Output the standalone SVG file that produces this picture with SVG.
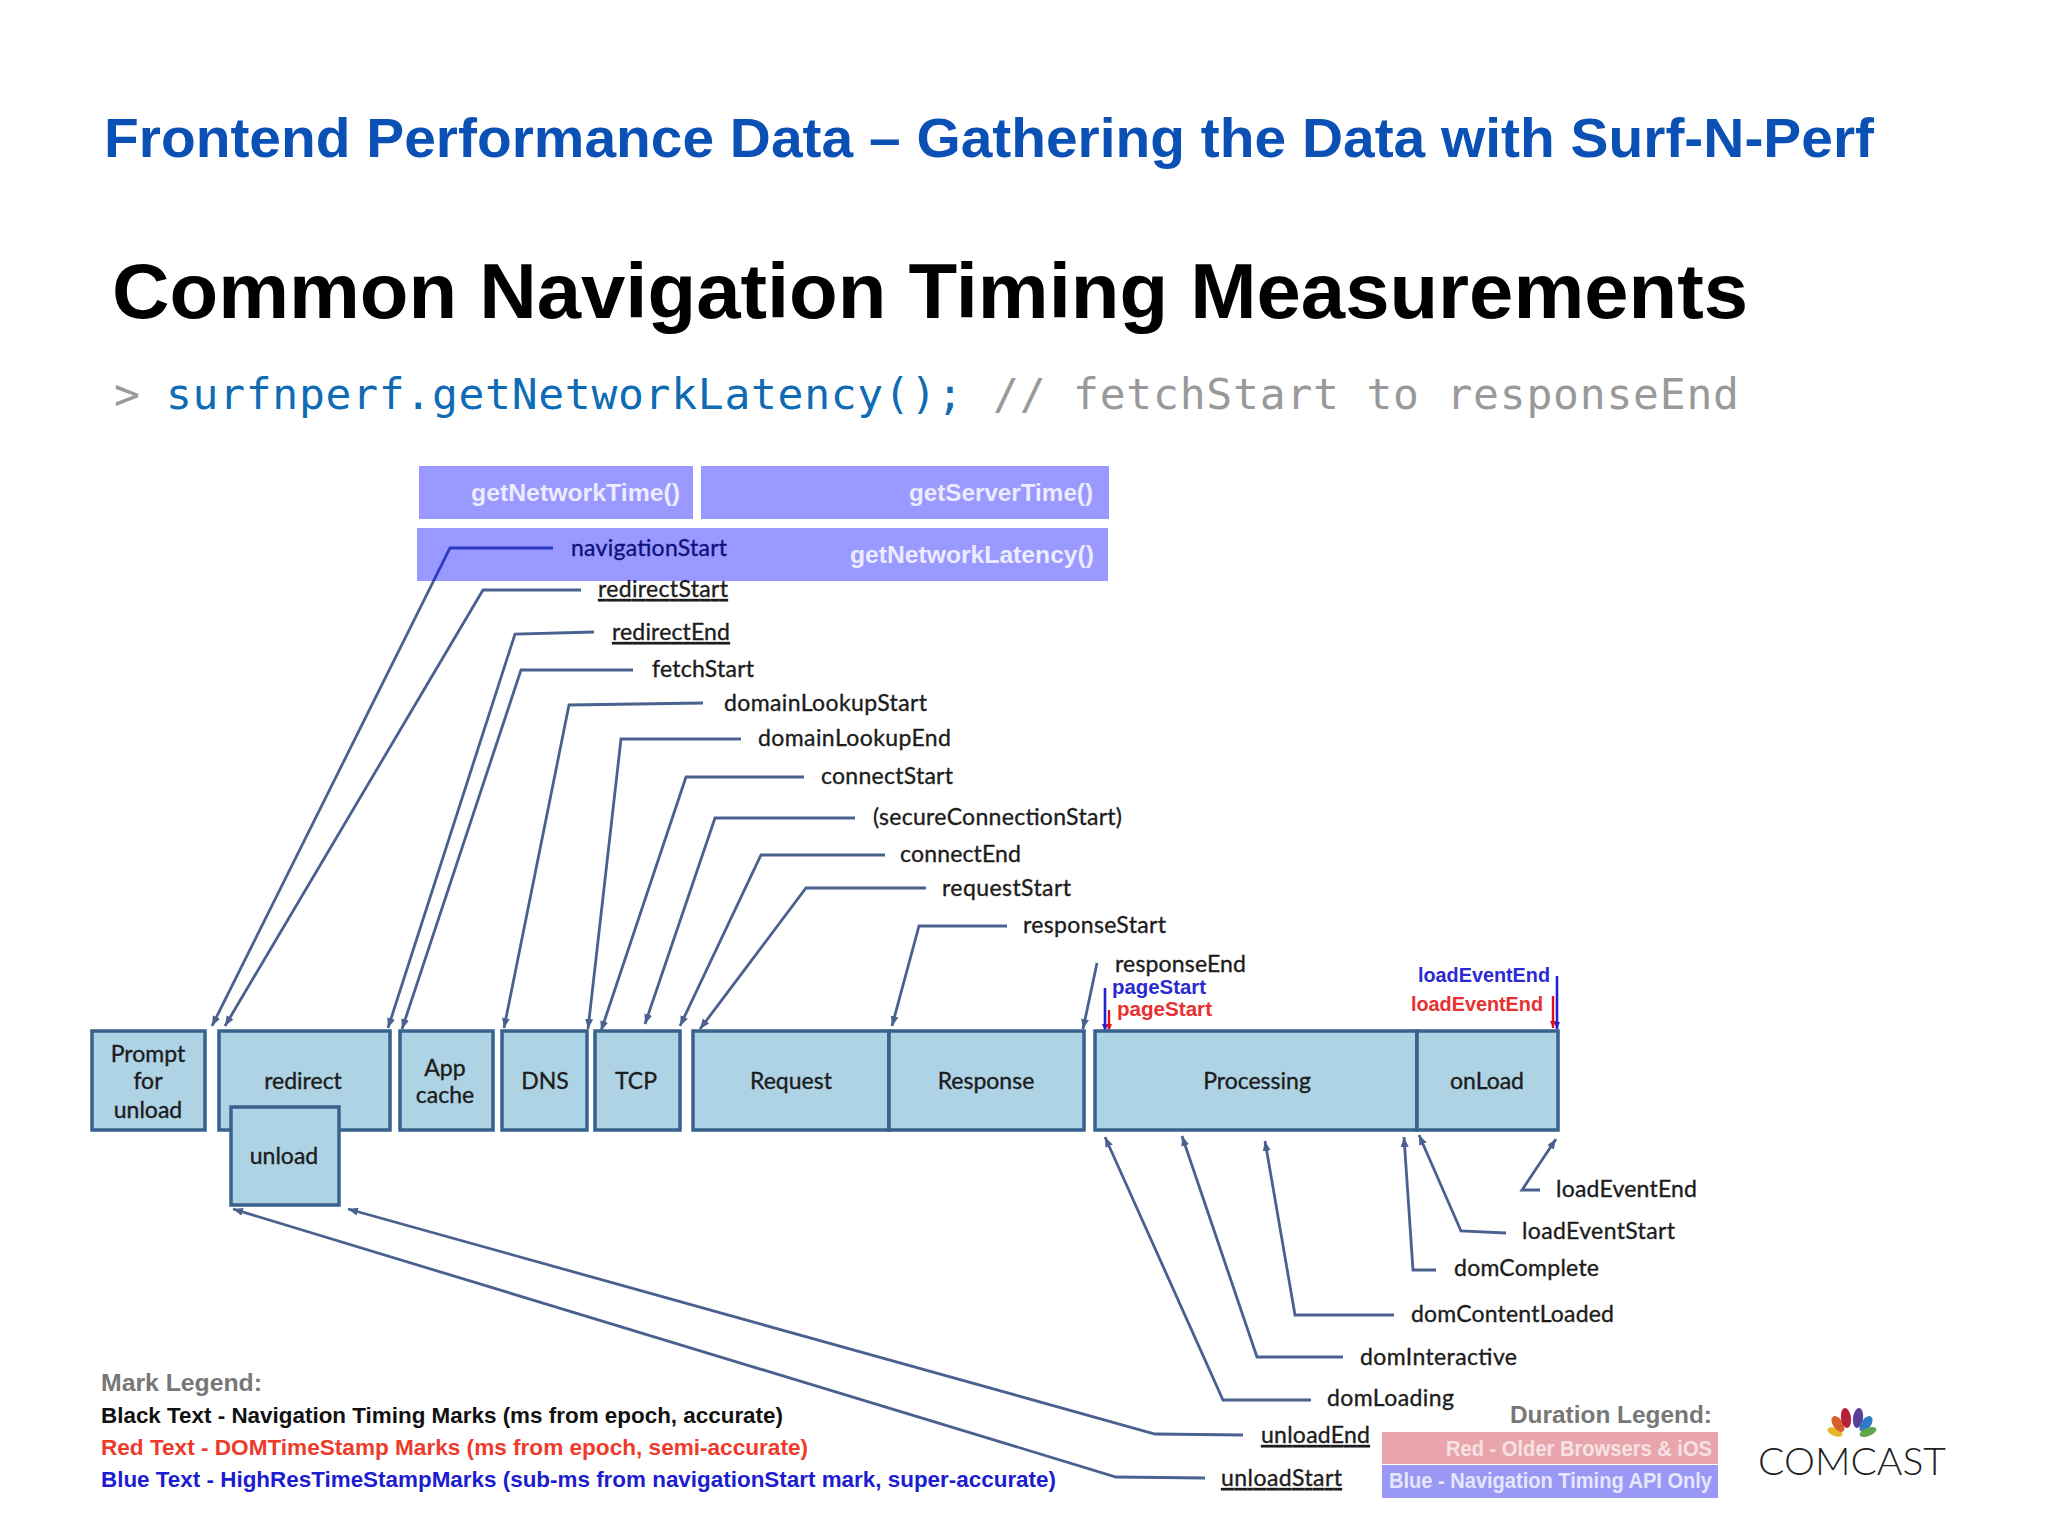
<svg xmlns="http://www.w3.org/2000/svg" width="2048" height="1536" viewBox="0 0 2048 1536">
<style>
text{font-family:"Liberation Sans",Arial,sans-serif}
.c{font-family:Lato,"Open Sans",sans-serif;font-size:23px;fill:#1c1c1c;stroke:#1c1c1c;stroke-width:.35}
.m{text-anchor:middle}
.u{text-decoration:underline}
.b{fill:#aed3e4;stroke:#37628e;stroke-width:3.5}
.p{fill:#0000ff;fill-opacity:.4}
.l{fill:none;stroke:#4a6190;stroke-width:2.8;marker-end:url(#a)}
.f{font-size:23px;fill:#ecebff;font-weight:700}
.lg{font-size:21.5px;font-weight:700}
.cd{font-family:"DejaVu Sans Mono",monospace;font-size:43px}
.s{font-size:20px;font-weight:700}
</style>
<defs>
<marker id="a" markerUnits="userSpaceOnUse" markerWidth="12" markerHeight="10" refX="10" refY="4" orient="auto"><path d="M0 0L10 4L0 8Z" fill="#4a6190"/></marker>
<marker id="ab" markerUnits="userSpaceOnUse" markerWidth="9" markerHeight="8" refX="7" refY="3" orient="auto"><path d="M0 0L7 3L0 6Z" fill="#2222cc"/></marker>
<marker id="ar" markerUnits="userSpaceOnUse" markerWidth="9" markerHeight="8" refX="7" refY="3" orient="auto"><path d="M0 0L7 3L0 6Z" fill="#e01020"/></marker>
</defs>
<rect width="2048" height="1536" fill="#fff"/>
<g id="titles">
<text x="104" y="157" font-size="56" font-weight="700" fill="#0b50b4" textLength="1770" lengthAdjust="spacingAndGlyphs">Frontend Performance Data – Gathering the Data with Surf-N-Perf</text>
<text x="112" y="318" font-size="78" font-weight="700" fill="#000" textLength="1636" lengthAdjust="spacingAndGlyphs">Common Navigation Timing Measurements</text>
<text class="cd" x="114" y="409" fill="#999">&gt;</text>
<text class="cd" x="166" y="409" fill="#0f6cb4" textLength="797">surfnperf.getNetworkLatency();</text>
<text class="cd" x="993" y="409" fill="#999" textLength="746">// fetchStart to responseEnd</text>
</g>
<g id="connectors">
<path class="l" d="M553 548H450L212 1026"/>
<path class="l" d="M581 590H483L225 1026"/>
<path class="l" d="M594 632L515 634L388 1028"/>
<path class="l" d="M633 670H521L402 1029"/>
<path class="l" d="M703 703L569 705L504 1028"/>
<path class="l" d="M741 739H621L588 1029"/>
<path class="l" d="M804 777H686L601 1031"/>
<path class="l" d="M855 818H715L645 1024"/>
<path class="l" d="M885 855H761L680 1026"/>
<path class="l" d="M926 888H806L700 1029"/>
<path class="l" d="M1007 926H919L892 1026"/>
<path class="l" d="M1097 963L1083 1029"/>
<path class="l" d="M1540 1190H1522L1556 1139"/>
<path class="l" d="M1506 1233L1461 1231L1419 1135"/>
<path class="l" d="M1436 1270H1413L1404 1137"/>
<path class="l" d="M1394 1315H1295L1265 1141"/>
<path class="l" d="M1343 1357H1257L1182 1136"/>
<path class="l" d="M1311 1400H1223L1105 1137"/>
<path class="l" d="M1243 1435L1155 1434L348 1209"/>
<path class="l" d="M1205 1478L1116 1477L233 1209"/>
<path fill="none" stroke="#2222cc" stroke-width="2.6" marker-end="url(#ab)" d="M1105 988V1031"/>
<path fill="none" stroke="#e01020" stroke-width="2.4" marker-end="url(#ar)" d="M1109 1010V1031"/>
<path fill="none" stroke="#2222cc" stroke-width="2.6" marker-end="url(#ab)" d="M1557 976V1029"/>
<path fill="none" stroke="#e01020" stroke-width="2.4" marker-end="url(#ar)" d="M1553 996V1028"/>
</g>
<g id="labels">
<text class="c" x="571" y="556" textLength="156">navigationStart</text>
<text class="c u" x="598" y="597" textLength="130">redirectStart</text>
<text class="c u" x="612" y="640" textLength="118">redirectEnd</text>
<text class="c" x="652" y="677" textLength="102">fetchStart</text>
<text class="c" x="724" y="711" textLength="203">domainLookupStart</text>
<text class="c" x="758" y="746" textLength="193">domainLookupEnd</text>
<text class="c" x="821" y="784" textLength="132">connectStart</text>
<text class="c" x="873" y="825" textLength="249">(secureConnectionStart)</text>
<text class="c" x="900" y="862" textLength="121">connectEnd</text>
<text class="c" x="942" y="896" textLength="129">requestStart</text>
<text class="c" x="1023" y="933" textLength="143">responseStart</text>
<text class="c" x="1115" y="972" textLength="131">responseEnd</text>
<text class="s" x="1112" y="994" textLength="94" lengthAdjust="spacingAndGlyphs" fill="#2a2ad0">pageStart</text>
<text class="s" x="1117" y="1016" textLength="95" lengthAdjust="spacingAndGlyphs" fill="#e83030">pageStart</text>
<text class="s" x="1418" y="982" textLength="132" lengthAdjust="spacingAndGlyphs" fill="#2a2ad0">loadEventEnd</text>
<text class="s" x="1411" y="1011" textLength="132" lengthAdjust="spacingAndGlyphs" fill="#e83030">loadEventEnd</text>
<text class="c" x="1556" y="1197" textLength="141">loadEventEnd</text>
<text class="c" x="1522" y="1239" textLength="153">loadEventStart</text>
<text class="c" x="1454" y="1276" textLength="145">domComplete</text>
<text class="c" x="1411" y="1322" textLength="203">domContentLoaded</text>
<text class="c" x="1360" y="1365" textLength="157">domInteractive</text>
<text class="c" x="1327" y="1406" textLength="127">domLoading</text>
<text class="c u" x="1261" y="1443" textLength="109">unloadEnd</text>
<text class="c u" x="1221" y="1486" textLength="121">unloadStart</text>
</g>
<g id="getNetworkTime"><rect class="p" x="419" y="466" width="274" height="53"/><text class="f" x="471" y="501" textLength="209" lengthAdjust="spacingAndGlyphs">getNetworkTime()</text></g>
<g id="getServerTime"><rect class="p" x="701" y="466" width="408" height="53"/><text class="f" x="909" y="501" textLength="184" lengthAdjust="spacingAndGlyphs">getServerTime()</text></g>
<g id="getNetworkLatency"><rect class="p" x="417" y="528" width="691" height="53"/><text class="f" x="850" y="563" textLength="244" lengthAdjust="spacingAndGlyphs">getNetworkLatency()</text></g>
<g id="prompt"><rect class="b" x="92" y="1031" width="113" height="99"/><text class="c m" x="148" y="1062">Prompt</text><text class="c m" x="148" y="1089">for</text><text class="c m" x="148" y="1118">unload</text></g>
<g id="redirect"><rect class="b" x="219" y="1031" width="171" height="99"/><text class="c m" x="303" y="1089">redirect</text></g>
<g id="unload"><rect class="b" x="231" y="1107" width="108" height="98"/><text class="c m" x="284" y="1164">unload</text></g>
<g id="appcache"><rect class="b" x="400" y="1031" width="93" height="99"/><text class="c m" x="445" y="1076">App</text><text class="c m" x="445" y="1103">cache</text></g>
<g id="dns"><rect class="b" x="502" y="1031" width="85" height="99"/><text class="c m" x="545" y="1089">DNS</text></g>
<g id="tcp"><rect class="b" x="595" y="1031" width="85" height="99"/><text class="c m" x="636" y="1089">TCP</text></g>
<g id="request"><rect class="b" x="693" y="1031" width="196" height="99"/><text class="c m" x="791" y="1089">Request</text></g>
<g id="response"><rect class="b" x="889" y="1031" width="195" height="99"/><text class="c m" x="986" y="1089">Response</text></g>
<g id="processing"><rect class="b" x="1095" y="1031" width="322" height="99"/><text class="c m" x="1257" y="1089">Processing</text></g>
<g id="onload"><rect class="b" x="1417" y="1031" width="141" height="99"/><text class="c m" x="1487" y="1089">onLoad</text></g>
<g id="mark-legend">
<text class="lg" x="101" y="1391" fill="#777" style="font-size:23px" textLength="161" lengthAdjust="spacingAndGlyphs">Mark Legend:</text>
<text class="lg" x="101" y="1423" fill="#111" textLength="682" lengthAdjust="spacingAndGlyphs">Black Text - Navigation Timing Marks (ms from epoch, accurate)</text>
<text class="lg" x="101" y="1455" fill="#ee3a2a" textLength="707" lengthAdjust="spacingAndGlyphs">Red Text - DOMTimeStamp Marks (ms from epoch, semi-accurate)</text>
<text class="lg" x="101" y="1487" fill="#1c1cd0" textLength="955" lengthAdjust="spacingAndGlyphs">Blue Text - HighResTimeStampMarks (sub-ms from navigationStart mark, super-accurate)</text>
</g>
<g id="duration-legend">
<text class="lg" x="1510" y="1423" fill="#777" style="font-size:24px" textLength="202" lengthAdjust="spacingAndGlyphs">Duration Legend:</text>
<rect x="1382" y="1432" width="336" height="32" fill="#e8a6ac"/>
<rect x="1382" y="1465" width="336" height="33" fill="#9999f5"/>
<text class="lg" x="1446" y="1456" fill="#f6e2e2" textLength="266" lengthAdjust="spacingAndGlyphs">Red - Older Browsers &amp; iOS</text>
<text class="lg" x="1389" y="1488" fill="#e6e6ff" textLength="323" lengthAdjust="spacingAndGlyphs">Blue - Navigation Timing API Only</text>
</g>
<g id="comcast">
<ellipse cx="1835" cy="1432" rx="4" ry="8" transform="rotate(-68 1835 1432)" fill="#e8b62a"/>
<ellipse cx="1838" cy="1424" rx="5" ry="9" transform="rotate(-35 1838 1424)" fill="#d5602a"/>
<ellipse cx="1846" cy="1418" rx="5" ry="10" transform="rotate(-8 1846 1418)" fill="#b52238"/>
<ellipse cx="1858" cy="1418" rx="5" ry="10" transform="rotate(8 1858 1418)" fill="#5a3f98"/>
<ellipse cx="1866" cy="1424" rx="5" ry="9" transform="rotate(35 1866 1424)" fill="#2f7cc8"/>
<ellipse cx="1868" cy="1432" rx="4" ry="9" transform="rotate(68 1868 1432)" fill="#5fa84a"/>
<text x="1758" y="1475" font-size="38" fill="#222" style="font-family:Lato,sans-serif;font-weight:300" textLength="188" lengthAdjust="spacingAndGlyphs">COMCAST</text>
</g>
</svg>
